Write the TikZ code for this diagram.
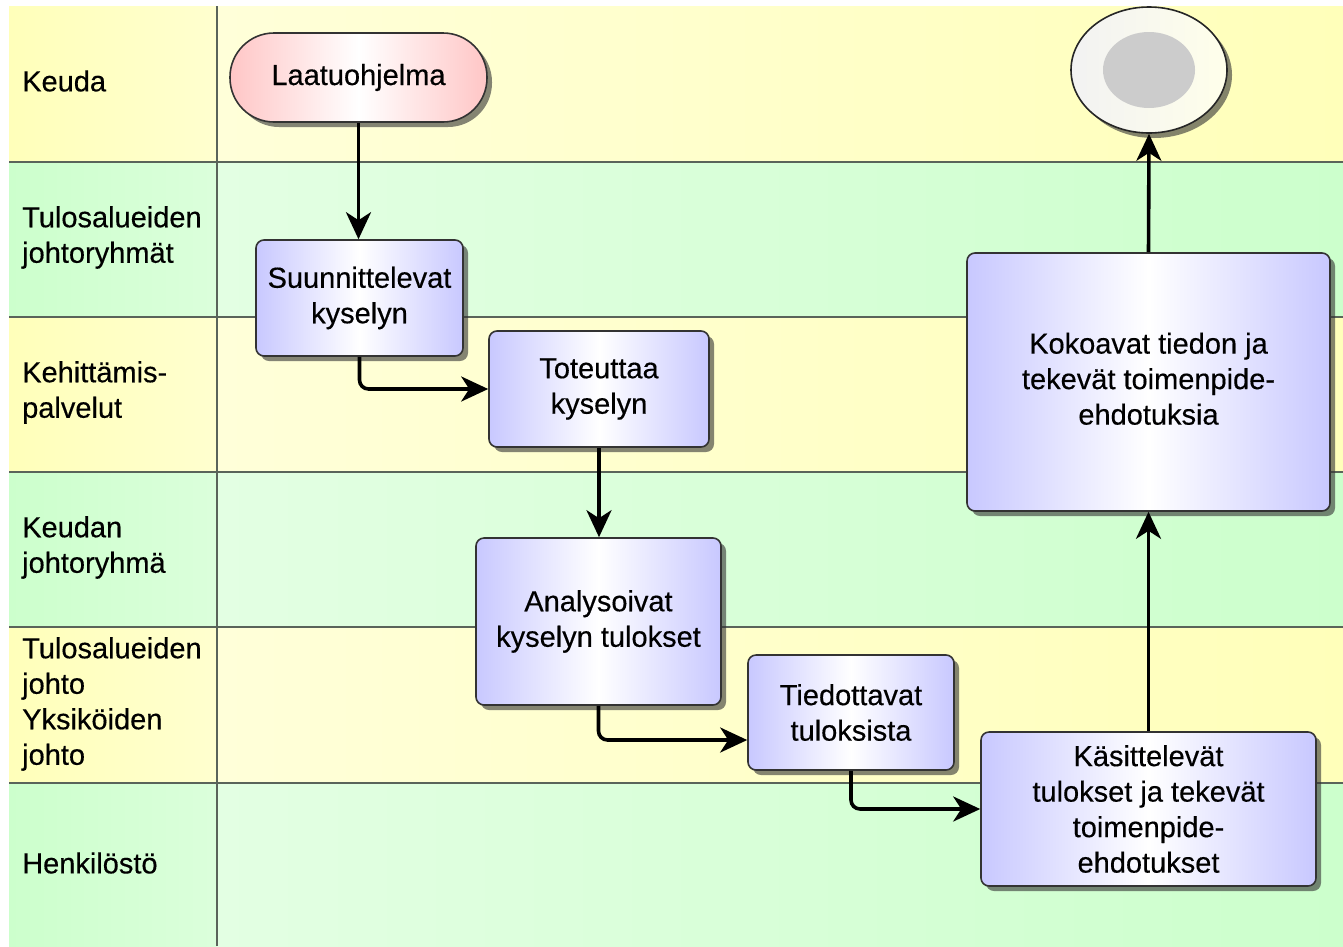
\documentclass[tikz,border=0pt]{standalone}
\usepackage{fontspec}
\setmainfont{Liberation Sans}[FakeBold=0.35]
\usetikzlibrary{arrows.meta,shadows,calc,shapes.geometric}
\definecolor{laneY}{RGB}{255,255,186}
\definecolor{laneG}{RGB}{204,255,204}
\definecolor{boxB}{RGB}{200,200,255}
\definecolor{boxP}{RGB}{255,198,198}
\definecolor{sep}{RGB}{90,100,90}
\definecolor{endgray}{RGB}{204,204,204}
\tikzset{
  lanelabel/.style={anchor=west, align=left, font=\fontsize{29}{35.5}\selectfont, inner sep=0pt},
  shadowed/.style={drop shadow={shadow xshift=5pt, shadow yshift=-5pt, fill=black!80, opacity=0.6}},
  procbox/.style={draw=black!80, line width=1.6pt, rounded corners=8pt, inner sep=0pt,
    left color=boxB, right color=boxB, middle color=white, align=center,
    font=\fontsize{29}{35.5}\selectfont, shadowed},
  termbox/.style={draw=black!80, line width=1.6pt, rounded corners=44pt, inner sep=0pt,
    left color=boxP, right color=boxP, middle color=white, align=center,
    font=\fontsize{29}{35.5}\selectfont, shadowed},
  flow/.style={line width=3.6pt, black, rounded corners=9pt, -{Stealth[length=27pt,width=25pt,inset=8pt]}},
}
\begin{document}
\begin{tikzpicture}[x=1pt,y=-1pt]
\useasboundingbox (0,0) rectangle (1343,946);
\fill[white] (0,0) rectangle (1343,946);
% lanes
\foreach \ya/\yb/\c in {6/162/laneY,162/317/laneG,317/472/laneY,472/627/laneG,627/783/laneY,783/946/laneG}{
  \shade[left color=\c, right color=\c!70!white] (9,\ya) rectangle (217,\yb);
  \shade[left color=\c!55!white, middle color=white, right color=\c] (217,\ya) rectangle (1343,\yb);
}
\foreach \y in {162,317,472,627,783}{
  \draw[sep, line width=1.5pt] (9,\y) -- (1343,\y);
}
\draw[sep, line width=1.5pt] (217,6) -- (217,946);
% lane labels
\node[lanelabel] (l1) at (22,81) {Keuda};
\node[lanelabel] (l2) at (22,237.5) {Tulosalueiden\\johtoryhmät};
\node[lanelabel] (l3) at (22,392.5) {Kehittämis-\\palvelut};
\node[lanelabel] (l4) at (22,547.5) {Keudan\\johtoryhmä};
\node[lanelabel] (l5) at (22,704) {Tulosalueiden\\johto\\Yksiköiden\\johto};
\node[lanelabel] (l6) at (22,863) {Henkilöstö};
% nodes
\node[termbox, minimum width=257pt, minimum height=89pt] (start) at (358.5,77.5) {Laatuohjelma};
\node[procbox, minimum width=207pt, minimum height=116pt] (s1) at (359.5,298) {Suunnittelevat\\kyselyn};
\node[procbox, minimum width=220pt, minimum height=116pt] (s2) at (599,389) {Toteuttaa\\kyselyn};
\node[procbox, minimum width=245pt, minimum height=167pt] (s3) at (598.5,621.5) {Analysoivat\\kyselyn tulokset};
\node[procbox, minimum width=206pt, minimum height=115pt] (s4) at (851,712.5) {Tiedottavat\\tuloksista};
\node[procbox, minimum width=335pt, minimum height=154pt] (s5) at (1148.5,809) {Käsittelevät\\tulokset ja tekevät\\toimenpide-\\ehdotukset};
\node[procbox, minimum width=363pt, minimum height=258pt] (s6) at (1148.5,382) {\raisebox{5pt}{\begin{tabular}{@{}c@{}}Kokoavat tiedon ja\\tekevät toimenpide-\\ehdotuksia\end{tabular}}};
\node[draw=black!85, line width=1.6pt, ellipse, minimum width=156pt, minimum height=126pt, inner sep=0pt,
  left color=black!5, right color=laneY!30!white, shadowed] (end) at (1149,70) {};
\fill[endgray] (end.center) ellipse [x radius=46pt, y radius=38pt];
% connectors
\coordinate (y740) at (0,740);
\draw[flow] (start.south) -- (start.south |- s1.north);
\draw[flow] (s1.south) |- (s2.west);
\draw[flow] (s2.south) -- (s2.south |- s3.north);
\draw[flow] (s3.south) |- (s4.west |- y740);
\draw[flow] (s4.south) |- (s5.west);
\draw[flow] (s5.north) -- (s6.south);
\draw[flow] (s6.north) -- (end.south);
\end{tikzpicture}
\end{document}
